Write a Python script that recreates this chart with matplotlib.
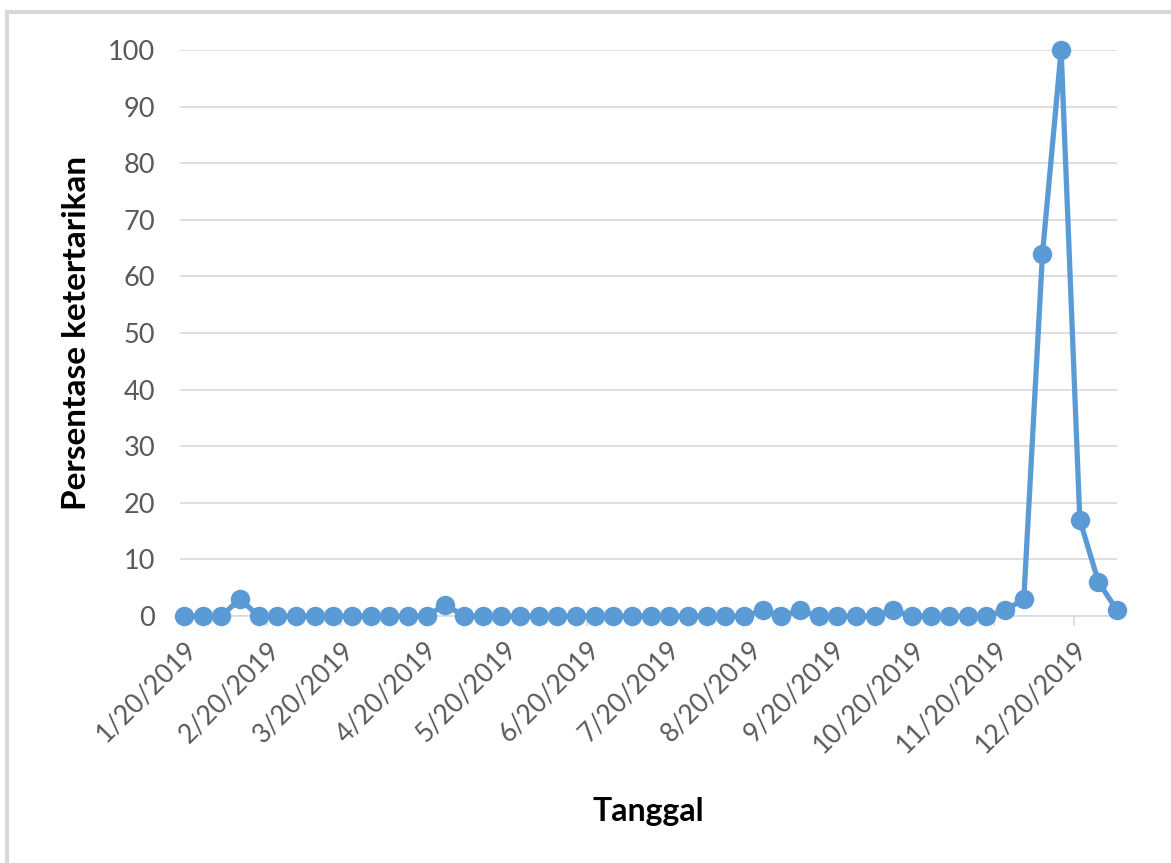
import matplotlib
matplotlib.use("Agg")
import matplotlib.pyplot as plt
import matplotlib.patches as mpatches
import pandas as pd

# weekly interest values, first week 1/20/2019
start_date = "2019-01-20"
values = [0, 0, 0, 3, 0, 0, 0, 0, 0, 0,
          0, 0, 0, 0, 2, 0, 0, 0, 0, 0,
          0, 0, 0, 0, 0, 0, 0, 0, 0, 0,
          0, 1, 0, 1, 0, 0, 0, 0, 1, 0,
          0, 0, 0, 0, 1, 3, 64, 100, 17, 6,
          1]
tick_months = list(range(1, 13))
y_ticks = list(range(0, 101, 10))

dates = pd.date_range(start_date, periods=len(values), freq="7D")
tick_dates = [pd.Timestamp(2019, m, 20) for m in tick_months]

plt.rcParams['font.family'] = ['Lato', 'DejaVu Sans']

fig = plt.figure(figsize=(11.71, 8.63), dpi=100)
ax = fig.add_axes([0.1537, 0.2862, 0.8003, 0.6558])

# light frame around the chart area
fig.patches.append(mpatches.Rectangle((7 / 1171, -0.05), 1.2, (863 - 12) / 863 + 0.05,
                                      transform=fig.transFigure, fill=False,
                                      edgecolor="#d9d9d9", linewidth=3))

ax.plot(dates, values, color="#5B9BD5", linewidth=3.8, marker="o",
        markersize=13, markerfacecolor="#5B9BD5", markeredgecolor="#5B9BD5",
        zorder=3, clip_on=False)

ax.set_ylim(0, 100)
ax.set_yticks(y_ticks)
ax.set_xlim(pd.Timestamp("2019-01-18 12:00"), dates[-1])
ax.set_xticks(tick_dates)
ax.set_xticklabels([f"{d.month}/{d.day}/{d.year}" for d in tick_dates],
                   rotation=45, ha="right", rotation_mode="anchor")

ax.grid(axis="y", color="#d9d9d9", linewidth=1.2)
ax.set_axisbelow(True)
for s in ["top", "right", "left"]:
    ax.spines[s].set_visible(False)
ax.spines["bottom"].set_color("#d9d9d9")
ax.spines["bottom"].set_linewidth(1.2)

ax.tick_params(axis="y", length=0, pad=18, labelsize=19.5, labelcolor="#595959")
ax.tick_params(axis="x", length=7, width=1.2, color="#d9d9d9", pad=8,
               labelsize=19, labelcolor="#595959")

ax.set_ylabel("Persentase ketertarikan", fontsize=24, fontweight="bold", labelpad=12)
ax.set_xlabel("Tanggal", fontsize=23, fontweight="bold", labelpad=28)

fig.savefig("out.png", dpi=100)
